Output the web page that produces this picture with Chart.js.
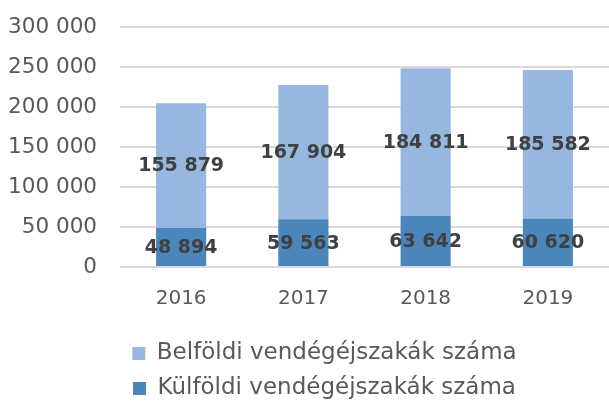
<!DOCTYPE html>
<html>
<head>
<meta charset="utf-8">
<script src="https://cdn.jsdelivr.net/npm/chart.js@4"></script>
<style>
  html, body { margin:0; padding:0; background:#fff; }
  #wrap { width:609px; height:406px; }
</style>
</head>
<body>
<div id="wrap"><canvas id="grafikon"></canvas></div>
<script>
// ── ADATOK ────────────────────────────────────────────
const evek      = ['2016', '2017', '2018', '2019'];
const belfoldi  = [155879, 167904, 184811, 185582];
const kulfoldi  = [48894, 59563, 63642, 60620];
const yTickek   = [0, 50000, 100000, 150000, 200000, 250000, 300000];

const FONT = "'DejaVu Sans', sans-serif";
const szamFormat = v => String(v).replace(/\B(?=(\d{3})+(?!\d))/g, ' ');

// címkék a sávok közepére
const cimkePlugin = {
    id: 'cimkek',
    afterDatasetsDraw(chart) {
        const ctx = chart.ctx;
        ctx.save();
        ctx.font = "bold 19px " + FONT;
        ctx.fillStyle = '#404040';
        ctx.textAlign = 'center';
        ctx.textBaseline = 'middle';
        chart.data.datasets.forEach((ds, i) => {
            chart.getDatasetMeta(i).data.forEach((bar, j) => {
                const p = bar.getProps(['x', 'y', 'base'], true);
                ctx.fillText(szamFormat(ds.data[j]), p.x, (p.y + p.base) / 2 + 1);
            });
        });
        ctx.restore();
    }
};

// elrendezés finomítása: rajzterület teteje, jelmagyarázat helye
const elrendezes = {
    id: 'elrendezes',
    afterLayout(chart) {
        const y = chart.scales.y;
        y.top = 27;
        y.height = y.bottom - y.top;
        y.configure();
        chart.chartArea.top = 27;
        chart.chartArea.height = chart.chartArea.bottom - 27;

        const lg = chart.legend;
        if (!lg) return;
        lg.top += 7; lg.bottom += 7;
        lg.left += 32;
    }
};

new Chart(document.getElementById('grafikon'), {
    type: 'bar',
    data: {
        labels: evek,
        datasets: [
            { label: 'Külföldi vendégéjszakák száma', data: kulfoldi, backgroundColor: '#4A86BB',
              categoryPercentage: 1, barPercentage: 0.41 },
            { label: 'Belföldi vendégéjszakák száma', data: belfoldi, backgroundColor: '#96B7DF',
              categoryPercentage: 1, barPercentage: 0.41 }
        ]
    },
    options: {
        responsive: true,
        maintainAspectRatio: false,
        animation: false,
        layout: { padding: { left: 8, right: 0, top: 0, bottom: 3 } },
        plugins: {
            tooltip: { enabled: false },
            legend: {
                position: 'bottom',
                reverse: true,
                labels: {
                    color: '#595959',
                    font: { family: FONT, size: 23 },
                    boxWidth: 13, boxHeight: 13,
                    padding: 12
                }
            }
        },
        scales: {
            x: {
                stacked: true,
                grid: { display: false },
                border: { display: false },
                ticks: { color: '#595959', font: { family: FONT, size: 20 }, padding: 12 }
            },
            y: {
                stacked: true,
                min: 0, max: 300000,
                afterBuildTicks: ax => { ax.ticks = yTickek.map(v => ({ value: v })); },
                afterFit: ax => { ax.width = 112; },
                grid: { color: '#D9D9D9', lineWidth: 2, drawTicks: false },
                border: { display: false },
                ticks: { color: '#595959', font: { family: FONT, size: 21.5 }, padding: 23,
                         callback: v => szamFormat(v) }
            }
        }
    },
    plugins: [cimkePlugin, elrendezes]
});
</script>
</body>
</html>
